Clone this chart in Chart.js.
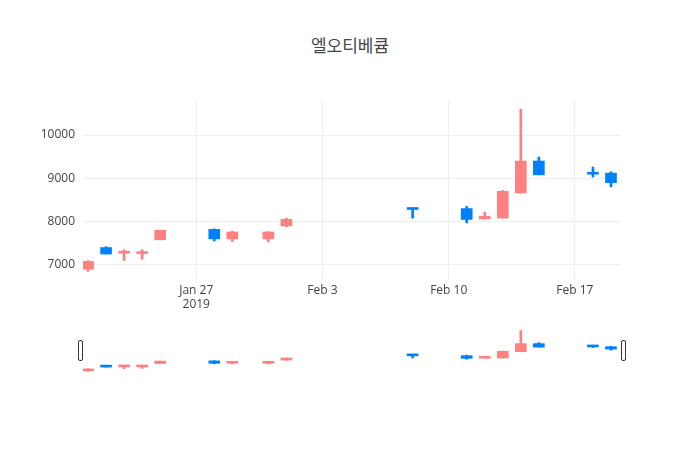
<!DOCTYPE html>
<html>
<head>
<meta charset="utf-8">
<script src="https://cdn.jsdelivr.net/npm/chart.js@4"></script>
<style>
  body { margin: 0; background: #fff; font-family: "Open Sans", "Noto Sans CJK KR", sans-serif; }
  #title { position: absolute; top: 32px; left: 0; width: 700px; text-align: center; font-size: 17px; color: #444; font-family: "Open Sans", "Noto Sans CJK KR", sans-serif; }
  #main { position: absolute; top: 0; left: 0; width: 700px; height: 320px; }
  #slider { position: absolute; top: 328px; left: 0; width: 700px; height: 46px; }
</style>
</head>
<body>
<div id="title">엘오티베큠</div>
<div id="main"><canvas id="priceChart"></canvas></div>
<div id="slider"><canvas id="sliderChart"></canvas></div>
<script>
// days counted from Jan 21 2019
const days  = [0, 1, 2, 3, 4, 7, 8, 10, 11, 18, 21, 22, 23, 24, 25, 28, 29];
const opens = [6900, 7400, 7270, 7260, 7580, 7820, 7600, 7600, 7900, 8300, 8300, 8060, 8080, 8660, 9400, 9120, 9120];
const highs = [7100, 7420, 7350, 7350, 7800, 7830, 7780, 7770, 8080, 8300, 8350, 8220, 8720, 10600, 9490, 9260, 9150];
const lows  = [6850, 7250, 7100, 7130, 7580, 7550, 7540, 7530, 7880, 8080, 7970, 8060, 8080, 8660, 9080, 9030, 8800];
const closes= [7080, 7250, 7290, 7290, 7800, 7600, 7760, 7760, 8050, 8280, 8050, 8120, 8700, 9400, 9080, 9095, 8900];
const tickDays = [6, 13, 20, 27];
const tickLabels = [['Jan 27', '2019'], 'Feb 3', 'Feb 10', 'Feb 17'];

const UP = '#ff8080', DOWN = '#0080ff';
const colors = days.map((d, i) => closes[i] >= opens[i] ? UP : DOWN);
const bodies = days.map((d, i) => ({ x: d, y: [opens[i], closes[i]] }));
const wicks  = days.map((d, i) => ({ x: d, y: [lows[i], highs[i]] }));

function candleSets(bodyW, wickW) {
    return [
        { data: wicks, backgroundColor: colors, barThickness: wickW, grouped: false },
        { data: bodies, backgroundColor: colors, borderColor: colors, borderWidth: 0, barThickness: bodyW, grouped: false, minBarLength: 2 }
    ];
}

Chart.defaults.font.family = '"Open Sans", "Noto Sans CJK KR", sans-serif';
Chart.defaults.color = '#444';

new Chart(document.getElementById('priceChart'), {
    type: 'bar',
    data: { datasets: candleSets(11, 2) },
    options: {
        responsive: true,
        maintainAspectRatio: false,
        animation: false,
        layout: { padding: { top: 100, right: 80, left: 0 } },
        plugins: { legend: { display: false }, tooltip: { enabled: false } },
        scales: {
            x: {
                type: 'linear', min: -0.28, max: 29.5, offset: false,
                afterBuildTicks: s => { s.ticks = tickDays.map(v => ({ value: v })); },
                afterFit: s => { s.height = 40; },
                ticks: { font: { size: 12 }, maxRotation: 0, callback: (v, i) => tickLabels[i] },
                grid: { color: '#eee', drawTicks: false, offset: false },
                border: { display: false }
            },
            y: {
                min: 6650, max: 10810,
                afterBuildTicks: s => { s.ticks = [7000, 8000, 9000, 10000].map(v => ({ value: v })); },
                afterFit: s => { s.width = 83; },
                ticks: { font: { size: 12 }, callback: v => String(v), padding: 8 },
                grid: { color: '#eee', drawTicks: false },
                border: { display: false }
            }
        }
    }
});

const handles = {
    id: 'handles',
    afterDraw(chart) {
        const { ctx, chartArea: a } = chart;
        ctx.save();
        ctx.fillStyle = '#fff';
        ctx.strokeStyle = '#333';
        ctx.lineWidth = 1;
        [a.left - 5, a.right + 1].forEach(x => {
            ctx.beginPath();
            ctx.roundRect(x + 0.5, 12.5, 4, 20, 1.5);
            ctx.fill();
            ctx.stroke();
        });
        ctx.restore();
    }
};

new Chart(document.getElementById('sliderChart'), {
    type: 'bar',
    data: { datasets: candleSets(11, 2) },
    plugins: [handles],
    options: {
        responsive: true,
        maintainAspectRatio: false,
        animation: false,
        layout: { padding: { left: 83, right: 80, top: 2, bottom: 2 } },
        plugins: { legend: { display: false }, tooltip: { enabled: false } },
        scales: {
            x: { type: 'linear', min: -0.28, max: 29.5, offset: false, display: false },
            y: { min: 6800, max: 10650, display: false }
        }
    }
});
</script>
</body>
</html>
